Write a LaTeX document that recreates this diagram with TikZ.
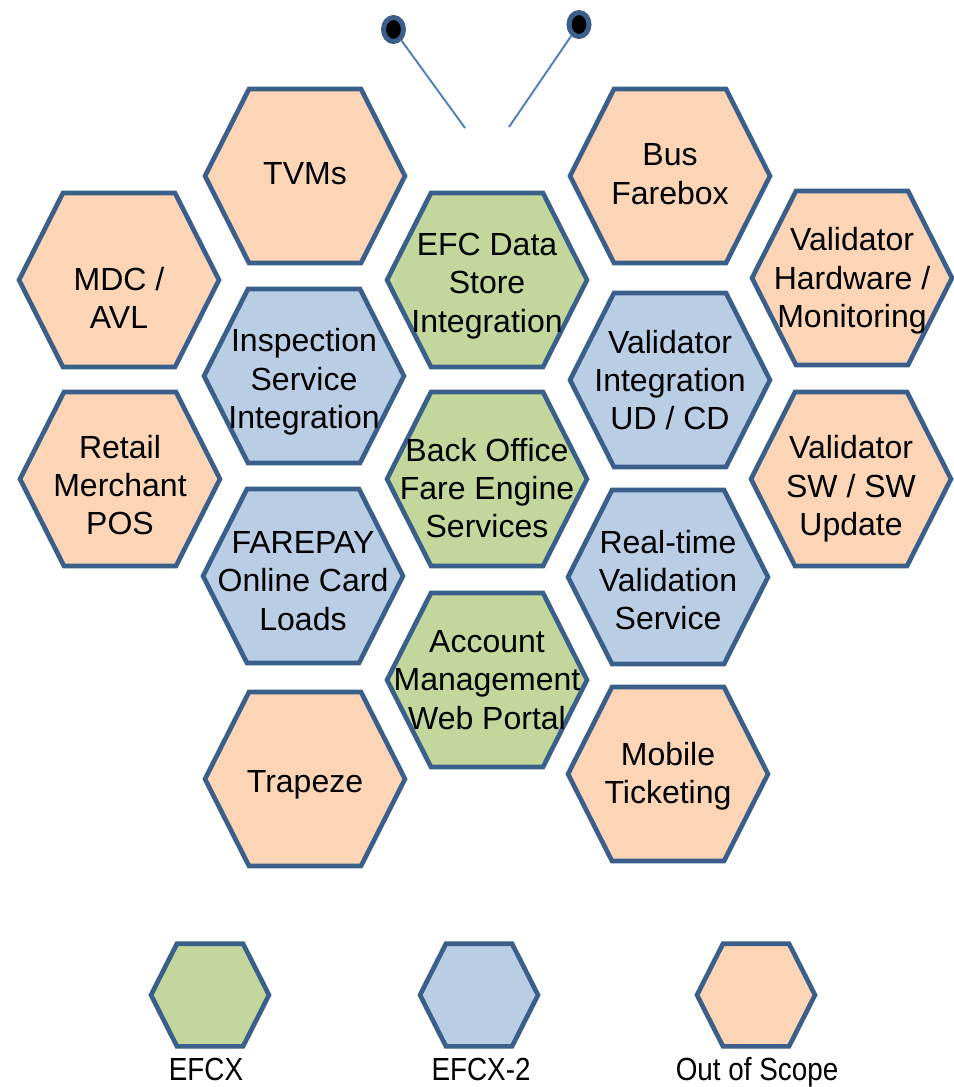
\documentclass[tikz,border=0pt]{standalone}
\usepackage{fontspec}
\setmainfont{Liberation Sans}
\usetikzlibrary{shapes.geometric}

\definecolor{hexline}{HTML}{3A5F8B}
\definecolor{feelerblue}{HTML}{4A7EBB}
\definecolor{scopeorange}{HTML}{FBD5B5}
\definecolor{efcxgreen}{HTML}{C3D69B}
\definecolor{efcxblue}{HTML}{B9CDE5}

\tikzset{
  cell/.style={draw=hexline, line width=3.5pt, line join=miter},
  celltext/.style={font=\fontsize{24}{28.8}\selectfont, align=center, inner sep=0pt},
  keytext/.style={font=\fontsize{24}{28.8}\selectfont, inner sep=0pt, anchor=base},
  eye/.style={ellipse, draw=hexline, fill=black, line width=3.75pt, minimum width=15pt, minimum height=18pt, inner sep=0pt},
  feeler/.style={draw=feelerblue, line width=1.4pt},
}

% [text options], name, centre, fill, size, text
\newcommand\hexcell[6][]{%
  \draw[cell, fill=#4, shift={(#3)}, scale=#5] (-100,0) -- (-56,87) -- (56,87) -- (100,0) -- (56,-87) -- (-56,-87) -- cycle;
  \node[celltext, #1] (#2) at (#3) {#6};
}

\begin{document}
\begin{tikzpicture}[x=0.75pt, y=-0.75pt]
    \useasboundingbox (0,0) rectangle (953,1087);

    % feelers
    \coordinate (ltip) at (465,128);
    \coordinate (rtip) at (509,127);
    \node[eye] (leye) at (393.5,29.5) {};
    \node[eye] (reye) at (579,24.5) {};
    \draw[feeler] (leye) -- (ltip);
    \draw[feeler] (reye) -- (rtip);

    % outer columns
    \hexcell[yshift=-13.5pt]{mdc}{119,280}{scopeorange}{1}{MDC /\\AVL}
    \hexcell[yshift=-4.5pt]{retail}{120,479}{scopeorange}{1}{Retail\\Merchant\\POS}
    \hexcell[yshift=-2.25pt]{valhw}{852,278}{scopeorange}{1}{Validator\\Hardware /\\Monitoring}
    \hexcell[yshift=-7.5pt]{valsw}{851,479}{scopeorange}{1}{Validator\\SW / SW\\Update}

    % inner left column
    \hexcell[yshift=1.5pt]{tvms}{305,176}{scopeorange}{1}{TVMs}
    \hexcell[yshift=-4.5pt]{inspect}{304,376}{efcxblue}{1}{Inspection\\Service\\Integration}
    \hexcell[yshift=-3.75pt]{farepay}{303,576}{efcxblue}{1}{FAREPAY\\Online Card\\Loads}
    \hexcell[yshift=-4.5pt]{trapeze}{305,779}{scopeorange}{1}{Trapeze}

    % middle column
    \hexcell[yshift=-4.5pt]{datastore}{487,280}{efcxgreen}{1}{EFC Data\\Store\\Integration}
    \hexcell[yshift=-6.75pt]{backoffice}{487,479}{efcxgreen}{1}{Back Office\\Fare Engine\\Services}
    \hexcell{account}{487,680}{efcxgreen}{1}{Account\\Management\\Web Portal}

    % inner right column
    \hexcell[yshift=1.5pt]{farebox}{670,176}{scopeorange}{1}{Bus\\Farebox}
    \hexcell{valint}{670,380}{efcxblue}{1}{Validator\\Integration\\UD / CD}
    \hexcell[yshift=-2.25pt]{realtime}{668,577}{efcxblue}{1}{Real-time\\Validation\\Service}
    \hexcell[yshift=-1.5pt]{mobile}{668,774}{scopeorange}{1}{Mobile\\Ticketing}

    % key
    \hexcell{key-efcx}{210,995}{efcxgreen}{0.59}{}
    \hexcell{key-efcx2}{479,995}{efcxblue}{0.59}{}
    \hexcell{key-scope}{756,995}{scopeorange}{0.59}{}
    \node[keytext] (efcx-label)  at (206,1080) {\scalebox{0.87}[1]{EFCX}};
    \node[keytext] (efcx2-label) at (481,1080) {\scalebox{0.87}[1]{EFCX-2}};
    \node[keytext] (scope-label) at (757,1080) {\scalebox{0.87}[1]{Out of Scope}};
\end{tikzpicture}
\end{document}
